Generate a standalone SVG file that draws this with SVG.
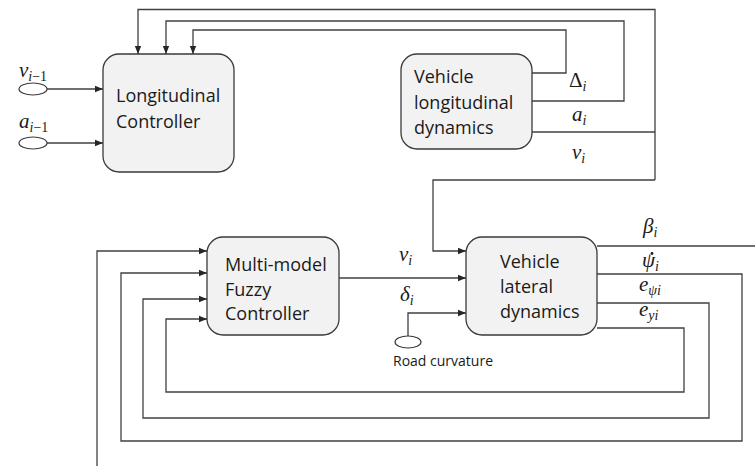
<svg xmlns="http://www.w3.org/2000/svg" width="755" height="466" viewBox="0 0 755 466">
<defs>
<marker id="ah" viewBox="0 0 8 8" refX="8" refY="4" markerWidth="8" markerHeight="8" markerUnits="userSpaceOnUse" orient="auto">
<path d="M0,0.8 L8,4 L0,7.2 Z" fill="#262626"/>
</marker>
<style>
.box{fill:#f2f2f2;stroke:#3a3a3a;stroke-width:1.3}
.ln{fill:none;stroke:#404040;stroke-width:1.3}
.ar{marker-end:url(#ah)}
.t{font-family:"Open Sans","Noto Sans",sans-serif;font-size:18px;fill:#1a1a1a}
.s{font-family:"Open Sans","Noto Sans",sans-serif;font-size:14px;fill:#1a1a1a}
.m{font-family:"Liberation Serif","DejaVu Serif",serif;font-style:italic;font-size:21px;fill:#1a1a1a}
.sub{font-size:14px}
.up{font-style:normal}
.el{fill:#fff;stroke:#3a3a3a;stroke-width:1.2}
</style>
</defs>

<g id="connectors">
<path class="ln ar" d="M47,89 H103"/>
<path class="ln ar" d="M47,143 H103"/>
<path class="ln ar" d="M532,73 H566 V30 H193 V54"/>
<path class="ln ar" d="M532,101 H624 V21 H166 V54"/>
<path class="ln" d="M532,132 H655"/>
<path class="ln ar" d="M655,180 V9.5 H138 V54"/>
<path class="ln ar" d="M655,180 H433 V251 H466"/>
<path class="ln ar" d="M339,278 H466"/>
<path class="ln ar" d="M408,336 V313 H466"/>
<path class="ln" d="M597,246 H755"/>
<path class="ln ar" d="M597,274 H742 V441 H121 V273 H207"/>
<path class="ln ar" d="M597,303 H709 V418 H143 V299 H207"/>
<path class="ln ar" d="M597,328 H684 V392 H166 V319 H207"/>
<path class="ln ar" d="M97,466 V251 H207"/>
</g>

<g id="in-v">
<ellipse class="el" cx="33" cy="89" rx="14" ry="6"/>
<text class="m" x="19" y="77">v<tspan class="sub" dy="4">i</tspan><tspan class="sub up">−1</tspan></text>
</g>
<g id="in-a">
<ellipse class="el" cx="33" cy="143" rx="14" ry="6"/>
<text class="m" x="19" y="128">a<tspan class="sub" dy="4">i</tspan><tspan class="sub up">−1</tspan></text>
</g>

<g id="longitudinal-controller">
<rect class="box" x="103" y="54" width="131" height="118" rx="16"/>
<text class="t" x="116" y="102">Longitudinal</text>
<text class="t" x="116" y="128">Controller</text>
</g>

<g id="vehicle-longitudinal-dynamics">
<rect class="box" x="401" y="54" width="131" height="95" rx="16"/>
<text class="t" x="414" y="83">Vehicle</text>
<text class="t" x="414" y="109">longitudinal</text>
<text class="t" x="414" y="134">dynamics</text>
</g>

<g id="fuzzy-controller">
<rect class="box" x="207" y="237" width="132" height="98" rx="16"/>
<text class="t" x="225" y="271">Multi-model</text>
<text class="t" x="225" y="296">Fuzzy</text>
<text class="t" x="225" y="320">Controller</text>
</g>

<g id="vehicle-lateral-dynamics">
<rect class="box" x="466" y="237" width="131" height="98" rx="16"/>
<text class="t" x="500" y="268">Vehicle</text>
<text class="t" x="500" y="293">lateral</text>
<text class="t" x="500" y="318">dynamics</text>
</g>

<g id="road-curvature">
<ellipse class="el" cx="408" cy="342" rx="13" ry="6"/>
<text class="s" x="393" y="366">Road curvature</text>
</g>

<g id="labels">
<text class="m" x="569" y="87"><tspan class="up">Δ</tspan><tspan class="sub" dy="4">i</tspan></text>
<text class="m" x="572" y="121">a<tspan class="sub" dy="4">i</tspan></text>
<text class="m" x="572" y="159">v<tspan class="sub" dy="4">i</tspan></text>
<text class="m" x="399" y="261">v<tspan class="sub" dy="4">i</tspan></text>
<text class="m" x="400" y="301">δ<tspan class="sub" dy="4">i</tspan></text>
<text class="m" x="643" y="233">β<tspan class="sub" dy="4">i</tspan></text>
<text class="m" x="642" y="267">ψ<tspan class="sub" dy="4">i</tspan></text>
<circle cx="652" cy="253.5" r="1.4" fill="#1a1a1a"/>
<text class="m" x="639" y="291">e<tspan class="sub" dy="4">ψi</tspan></text>
<text class="m" x="639" y="316">e<tspan class="sub" dy="4">yi</tspan></text>
</g>
</svg>
